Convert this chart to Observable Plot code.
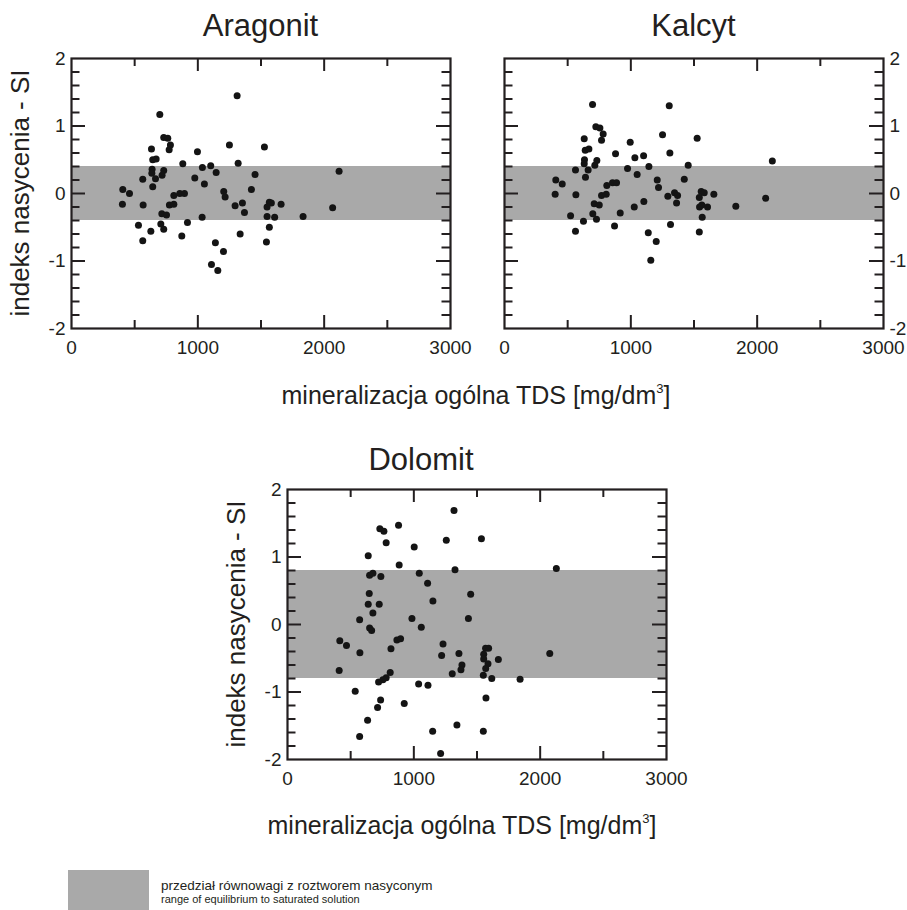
<!DOCTYPE html>
<html>
<head>
<meta charset="utf-8">
<script src="https://cdn.jsdelivr.net/npm/d3@7"></script>
<script src="https://cdn.jsdelivr.net/npm/@observablehq/plot@0.6"></script>
<style>
  html, body { margin: 0; padding: 0; background: #fff; }
  #fig { position: relative; width: 907px; height: 910px; overflow: hidden; background: #fff; }
  #fig svg { position: absolute; }
</style>
</head>
<body>
<div id="fig"></div>
<script>
// Saturation index (SI) against total dissolved solids (TDS, mg/dm3)
const aragonitTDS = [1311, 699, 730, 762, 783, 773, 633, 1250, 1527, 997, 643, 670, 881, 1319, 1036, 1102, 1145, 638, 636, 730, 717, 665, 564, 643, 976, 1052, 1453, 1424, 406, 459, 403, 567, 1205, 1216, 810, 857, 894, 775, 810, 715, 752, 1295, 1353, 1369, 1034, 530, 707, 730, 628, 918, 564, 873, 1335, 1139, 1203, 1108, 1158, 2118, 1566, 1582, 1548, 1659, 2067, 1548, 1608, 1833, 1566, 1543];
const aragonitSI = [1.45, 1.17, 0.83, 0.82, 0.72, 0.65, 0.66, 0.72, 0.69, 0.62, 0.50, 0.51, 0.44, 0.45, 0.385, 0.41, 0.31, 0.36, 0.30, 0.34, 0.27, 0.22, 0.21, 0.10, 0.23, 0.14, 0.28, 0.06, 0.06, 0.00, -0.16, -0.17, 0.03, -0.05, -0.03, 0.00, 0.00, -0.17, -0.16, -0.30, -0.32, -0.18, -0.14, -0.28, -0.35, -0.47, -0.45, -0.53, -0.56, -0.43, -0.70, -0.63, -0.60, -0.73, -0.86, -1.05, -1.14, 0.33, -0.13, -0.14, -0.20, -0.16, -0.21, -0.34, -0.35, -0.34, -0.50, -0.72];

const kalcytTDS = [697, 723, 755, 781, 768, 631, 639, 668, 879, 995, 1032, 1101, 633, 731, 631, 715, 562, 662, 974, 1143, 1050, 641, 406, 457, 855, 887, 810, 1209, 1219, 1304, 1309, 401, 565, 768, 805, 1293, 710, 750, 1027, 1103, 523, 699, 728, 916, 625, 871, 562, 1138, 1201, 1158, 1314, 1251, 1525, 1454, 2120, 1423, 1346, 1370, 1362, 1557, 1581, 1657, 1542, 2067, 1544, 1562, 1607, 1831, 1565, 1542];
const kalcytSI = [1.32, 0.99, 0.97, 0.88, 0.79, 0.81, 0.64, 0.66, 0.59, 0.76, 0.53, 0.56, 0.50, 0.49, 0.44, 0.42, 0.35, 0.35, 0.37, 0.40, 0.28, 0.24, 0.20, 0.14, 0.16, 0.16, 0.12, 0.20, 0.09, 1.30, 0.60, -0.01, -0.02, -0.03, -0.01, -0.04, -0.15, -0.17, -0.20, -0.12, -0.33, -0.30, -0.38, -0.29, -0.41, -0.48, -0.56, -0.58, -0.71, -0.99, -0.46, 0.87, 0.82, 0.42, 0.48, 0.21, 0.01, -0.03, -0.14, 0.03, 0.01, -0.01, -0.06, -0.07, -0.20, -0.17, -0.20, -0.19, -0.35, -0.57];

const dolomitTDS = [1318, 731, 763, 879, 781, 1257, 1003, 639, 884, 1326, 650, 676, 739, 1043, 1109, 647, 1151, 639, 726, 676, 571, 985, 650, 666, 1059, 414, 467, 573, 866, 895, 819, 1231, 1220, 1357, 409, 1381, 1373, 1304, 813, 781, 755, 721, 1038, 1112, 536, 737, 713, 924, 634, 571, 1149, 1341, 1212, 1450, 1432, 1535, 2128, 1568, 1592, 1553, 1553, 1669, 1587, 1569, 1550, 1617, 1841, 2076, 1571, 1550];
const dolomitSI = [1.69, 1.42, 1.38, 1.47, 1.21, 1.25, 1.15, 1.02, 0.88, 0.81, 0.73, 0.76, 0.71, 0.76, 0.61, 0.46, 0.35, 0.30, 0.30, 0.17, 0.07, 0.09, -0.05, -0.09, -0.04, -0.24, -0.31, -0.42, -0.23, -0.21, -0.36, -0.29, -0.46, -0.43, -0.68, -0.60, -0.67, -0.73, -0.71, -0.79, -0.82, -0.85, -0.88, -0.90, -0.99, -1.12, -1.23, -1.17, -1.42, -1.66, -1.58, -1.49, -1.91, 0.45, 0.09, 1.27, 0.83, -0.35, -0.35, -0.44, -0.51, -0.52, -0.58, -0.65, -0.75, -0.80, -0.81, -0.43, -1.09, -1.58];

// Equilibrium range with a saturated solution (lower, upper SI)
const aragonitBand = [-0.4, 0.4];
const kalcytBand = [-0.4, 0.4];
const dolomitBand = [-0.8, 0.8];

// Axes
const xDomain = [0, 3000];
const yDomain = [-2, 2];
const xTickLabels = [0, 1000, 2000, 3000];
const yTickLabels = [-2, -1, 0, 1, 2];
const xMajorTicks = [1000, 2000];
const xMinorTicks = [500, 1500, 2500];
const yMajorTicks = [-1, 0, 1];
const yMinorTicks = [-1.8, -1.6, -1.4, -1.2, -0.8, -0.6, -0.4, -0.2, 0.2, 0.4, 0.6, 0.8, 1.2, 1.4, 1.6, 1.8];

const panelTitles = ["Aragonit", "Kalcyt", "Dolomit"];
const yAxisTitle = "indeks nasycenia - SI";
const xAxisTitle = "mineralizacja ogólna TDS [mg/dm";
const legendLines = ["przedział równowagi z roztworem nasyconym", "range of equilibrium to saturated solution"];

const INK = "#231f20";
const BAND = "#a9a9a9";
const FONT = "'Liberation Sans', Arial, Helvetica, sans-serif";
const FW = 379, FH = 270;               // frame size of every panel
const M = {top: 14, bottom: 44, left: 48, right: 48};

// tick lengths in pixels, converted to data units along each axis
const perPxX = (xDomain[1] - xDomain[0]) / FW;
const perPxY = (yDomain[1] - yDomain[0]) / FH;
const X_MAJOR = 13, X_MINOR = 8, Y_MAJOR = 14, Y_MINOR = 8.5;

const fig = document.getElementById("fig");

function ticksX(values, len) {
  const d = len * perPxY;
  const style = {x: v => v, stroke: INK, strokeWidth: 2};
  return [
    Plot.ruleX(values, {...style, y1: yDomain[0], y2: yDomain[0] + d}),
    Plot.ruleX(values, {...style, y1: yDomain[1] - d, y2: yDomain[1]})
  ];
}
function ticksY(values, len) {
  const d = len * perPxX;
  const style = {y: v => v, stroke: INK, strokeWidth: 2};
  return [
    Plot.ruleY(values, {...style, x1: xDomain[0], x2: xDomain[0] + d}),
    Plot.ruleY(values, {...style, x1: xDomain[1] - d, x2: xDomain[1]})
  ];
}

function panel(tds, si, band, yAnchor, frameLeft, frameTop) {
  const pts = tds.map((t, i) => ({tds: t, si: si[i]}));
  const svg = Plot.plot({
    width: FW + M.left + M.right,
    height: FH + M.top + M.bottom,
    marginTop: M.top, marginBottom: M.bottom, marginLeft: M.left, marginRight: M.right,
    style: {overflow: "visible", fontFamily: FONT, fontSize: "19px", color: INK, background: "transparent"},
    x: {domain: xDomain},
    y: {domain: yDomain},
    marks: [
      Plot.rect([band], {x1: xDomain[0], x2: xDomain[1], y1: d => d[0], y2: d => d[1], fill: BAND}),
      Plot.dot(pts, {x: "tds", y: "si", r: 3.5, fill: "#141414", stroke: null}),
      ...ticksX(xMajorTicks, X_MAJOR),
      ...ticksX(xMinorTicks, X_MINOR),
      ...ticksY(yMajorTicks, Y_MAJOR),
      ...ticksY(yMinorTicks, Y_MINOR),
      Plot.frame({stroke: INK, strokeWidth: 2.2}),
      Plot.axisX(xTickLabels, {anchor: "bottom", tickSize: 0, tickPadding: 12, tickFormat: d => String(d), label: null}),
      Plot.axisY(yTickLabels, {anchor: yAnchor, tickSize: 0, tickPadding: 6, tickFormat: d => String(d), label: null})
    ]
  });
  svg.style.left = (frameLeft - M.left) + "px";
  svg.style.top = (frameTop - M.top) + "px";
  fig.appendChild(svg);
}

const frames = [
  {left: 71, top: 58},
  {left: 504, top: 58},
  {left: 287, top: 489}
];
panel(aragonitTDS, aragonitSI, aragonitBand, "left", frames[0].left, frames[0].top);
panel(kalcytTDS, kalcytSI, kalcytBand, "right", frames[1].left, frames[1].top);
panel(dolomitTDS, dolomitSI, dolomitBand, "left", frames[2].left, frames[2].top);

// Titles, axis titles and legend
const over = d3.select(fig).append("svg")
  .attr("width", 907).attr("height", 910)
  .style("left", "0px").style("top", "0px")
  .attr("font-family", FONT).attr("fill", INK);

function title(text, cx, baseline) {
  over.append("text").attr("x", cx).attr("y", baseline)
    .attr("text-anchor", "middle").attr("font-size", 31).text(text);
}
title(panelTitles[0], frames[0].left + FW / 2, 36);
title(panelTitles[1], frames[1].left + FW / 2, 36);
title(panelTitles[2], 421, 470);

function yTitle(frameLeft, frameTop) {
  const x = frameLeft - 42, y = frameTop + FH / 2;
  over.append("text").attr("transform", `translate(${x},${y}) rotate(-90)`)
    .attr("text-anchor", "middle").attr("font-size", 26).text(yAxisTitle);
}
yTitle(frames[0].left, frames[0].top);
yTitle(frames[2].left, frames[2].top);

function xTitle(cx, baseline) {
  const t = over.append("text").attr("x", cx).attr("y", baseline)
    .attr("text-anchor", "middle").attr("font-size", 25);
  t.append("tspan").text(xAxisTitle);
  t.append("tspan").attr("font-size", 13).attr("dy", -11).text("3");
  t.append("tspan").attr("dy", 11).text("]");
}
xTitle(476, 404);
xTitle(462, 834);

// legend
over.append("rect").attr("x", 68).attr("y", 870).attr("width", 81).attr("height", 40).attr("fill", BAND);
over.append("text").attr("x", 161).attr("y", 890).attr("font-size", 13.5).text(legendLines[0]);
over.append("text").attr("x", 161).attr("y", 903).attr("font-size", 11).text(legendLines[1]);
</script>
</body>
</html>
